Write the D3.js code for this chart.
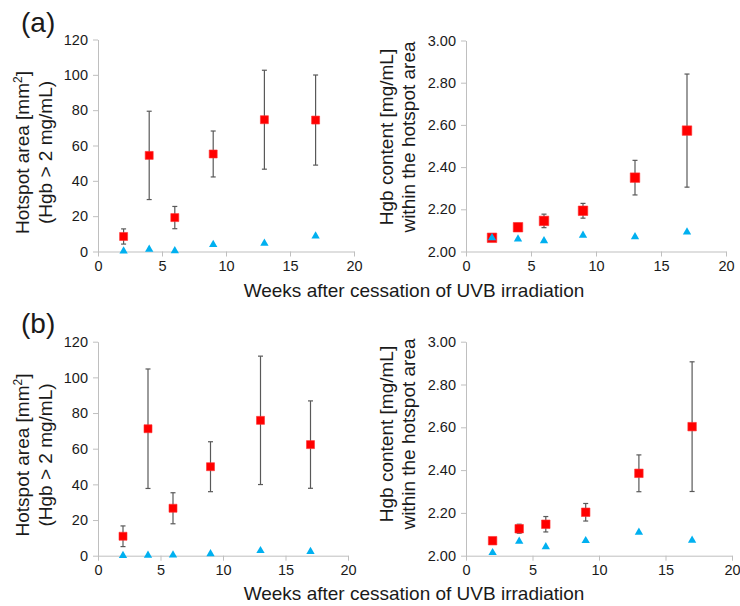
<!DOCTYPE html>
<html>
<head>
<meta charset="utf-8">
<script src="https://cdn.jsdelivr.net/npm/d3@7"></script>
<style>
  html, body { margin: 0; padding: 0; background: #fff; }
  svg { display: block; font-family: "Liberation Sans", Arial, sans-serif; }
</style>
</head>
<body>
<svg id="chart" width="740" height="606"></svg>
<script>
// ---- data ----
const weeks = [2, 4, 6, 9, 13, 17];
const xTicks = [0, 5, 10, 15, 20];
const areaTicks = [0, 20, 40, 60, 80, 100, 120];
const hgbTicks = [2.0, 2.2, 2.4, 2.6, 2.8, 3.0];

const aAreaRed = [8.5, 54.4, 19.2, 55.2, 74.6, 74.4];
const aAreaRedErr = [4.3, 25, 6.3, 13, 28, 25.5];
const aAreaBlue = [0.2, 1.2, 0.4, 3.9, 4.6, 8.7];

const aHgbRed = [2.065, 2.115, 2.145, 2.193, 2.350, 2.573];
const aHgbRedErr = [0.006, 0.018, 0.032, 0.035, 0.082, 0.268];
const aHgbBlue = [2.065, 2.059, 2.051, 2.077, 2.070, 2.092];

const bAreaRed = [10.9, 71.2, 26.6, 49.9, 75.9, 62.3];
const bAreaRedErr = [5.8, 33.5, 8.7, 14, 36, 24.5];
const bAreaBlue = [0.1, 0.2, 0.3, 1.0, 2.8, 2.3];

const bHgbRed = [2.070, 2.126, 2.147, 2.203, 2.385, 2.603];
const bHgbRedErr = [0.012, 0.021, 0.036, 0.041, 0.086, 0.303];
const bHgbBlue = [2.014, 2.067, 2.041, 2.070, 2.109, 2.072];

const xTitle = "Weeks after cessation of UVB irradiation";
const areaTitle = ["Hotspot area [mm", "2", "]", "(Hgb > 2 mg/mL)"];
const hgbTitle = ["Hgb content [mg/mL]", "within the hotspot area"];
const panelLabels = ["(a)", "(b)"];

// ---- drawing ----
const svg = d3.select("#chart");
const AXIS = "#bfbfbf", TXT = "#1a1a1a", RED = "#ff0000", BLUE = "#00b0f0", ERR = "#595959";

function panel(g, red, redErr, blue, domainY, yTicks, fmt, box) {
  const x = d3.scaleLinear().domain([0, 20]).range([box.x0, box.x1]);
  const y = d3.scaleLinear().domain(domainY).range([box.yb, box.yt]);

  const xAxis = g.append("g").attr("transform", `translate(0,${box.yb})`)
    .call(d3.axisBottom(x).tickValues(xTicks).tickSize(5).tickSizeOuter(0).tickPadding(4));
  const yAxis = g.append("g").attr("transform", `translate(${box.x0},0)`)
    .call(d3.axisLeft(y).tickValues(yTicks).tickFormat(fmt).tickSize(5).tickSizeOuter(0).tickPadding(5));
  [xAxis, yAxis].forEach(a => {
    a.select(".domain").attr("stroke", AXIS).attr("stroke-width", 1);
    a.selectAll(".tick line").attr("stroke", AXIS);
    a.selectAll(".tick text").attr("fill", TXT).style("font-size", "14.5px")
      .style("font-family", '"Liberation Sans", Arial, sans-serif');
  });

  // error bars
  const eb = g.append("g").attr("stroke", ERR).attr("stroke-width", 1.2);
  weeks.forEach((w, i) => {
    const cx = x(w), t = y(red[i] + redErr[i]), b = y(red[i] - redErr[i]);
    eb.append("line").attr("x1", cx).attr("x2", cx).attr("y1", t).attr("y2", b);
    eb.append("line").attr("x1", cx - 2.5).attr("x2", cx + 2.5).attr("y1", t).attr("y2", t);
    eb.append("line").attr("x1", cx - 2.5).attr("x2", cx + 2.5).attr("y1", b).attr("y2", b);
  });
  // red squares
  g.append("g").selectAll("path").data(weeks).join("path")
    .attr("d", d3.symbol().type(d3.symbolSquare).size(box.sq * box.sq))
    .attr("transform", (w, i) => `translate(${x(w)},${y(red[i])})`)
    .attr("fill", RED).attr("stroke", "#ff3030").attr("stroke-width", 0.6);
  // blue triangles
  g.append("g").selectAll("path").data(weeks).join("path")
    .attr("d", d3.symbol().type(d3.symbolTriangle).size(30))
    .attr("transform", (w, i) => `translate(${x(w)},${y(blue[i])})`)
    .attr("fill", BLUE);
}

const boxes = {
  aL: {x0: 98, x1: 354, yt: 39.5, yb: 251.5, sq: 8},
  aR: {x0: 466, x1: 726, yt: 40.5, yb: 251.5, sq: 9.5},
  bL: {x0: 98, x1: 348, yt: 341.7, yb: 555.7, sq: 8},
  bR: {x0: 466, x1: 732, yt: 341.7, yb: 555.7, sq: 8.5},
};
const fArea = d3.format("d"), fHgb = d3.format(".2f");

panel(svg.append("g"), aAreaRed, aAreaRedErr, aAreaBlue, [0, 120], areaTicks, fArea, boxes.aL);
panel(svg.append("g"), aHgbRed, aHgbRedErr, aHgbBlue, [2, 3], hgbTicks, fHgb, boxes.aR);
panel(svg.append("g"), bAreaRed, bAreaRedErr, bAreaBlue, [0, 120], areaTicks, fArea, boxes.bL);
panel(svg.append("g"), bHgbRed, bHgbRedErr, bHgbBlue, [2, 3], hgbTicks, fHgb, boxes.bR);

// titles
function areaYTitle(cy) {
  const t1 = svg.append("text").attr("transform", `translate(29,${cy}) rotate(-90)`)
    .attr("text-anchor", "middle").attr("fill", TXT).style("font-size", "19px");
  t1.append("tspan").text(areaTitle[0]);
  t1.append("tspan").attr("dy", -7).style("font-size", "12px").text(areaTitle[1]);
  t1.append("tspan").attr("dy", 7).text(areaTitle[2]);
  svg.append("text").attr("transform", `translate(52,${cy}) rotate(-90)`)
    .attr("text-anchor", "middle").attr("fill", TXT).style("font-size", "19px").text(areaTitle[3]);
}
function hgbYTitle(cy) {
  svg.append("text").attr("transform", `translate(393,${cy}) rotate(-90)`)
    .attr("text-anchor", "middle").attr("fill", TXT).style("font-size", "19px").text(hgbTitle[0]);
  svg.append("text").attr("transform", `translate(415,${cy}) rotate(-90)`)
    .attr("text-anchor", "middle").attr("fill", TXT).style("font-size", "19px").text(hgbTitle[1]);
}
areaYTitle(152.5);
hgbYTitle(137);
areaYTitle(455);
hgbYTitle(434);

[[297], [600]].forEach(([yb]) => {
  svg.append("text").attr("x", 414).attr("y", yb).attr("text-anchor", "middle")
    .attr("fill", TXT).style("font-size", "19px").text(xTitle);
});

svg.append("text").attr("x", 21).attr("y", 32).attr("fill", TXT).style("font-size", "28px").text(panelLabels[0]);
svg.append("text").attr("x", 21).attr("y", 333).attr("fill", TXT).style("font-size", "28px").text(panelLabels[1]);
</script>
</body>
</html>
